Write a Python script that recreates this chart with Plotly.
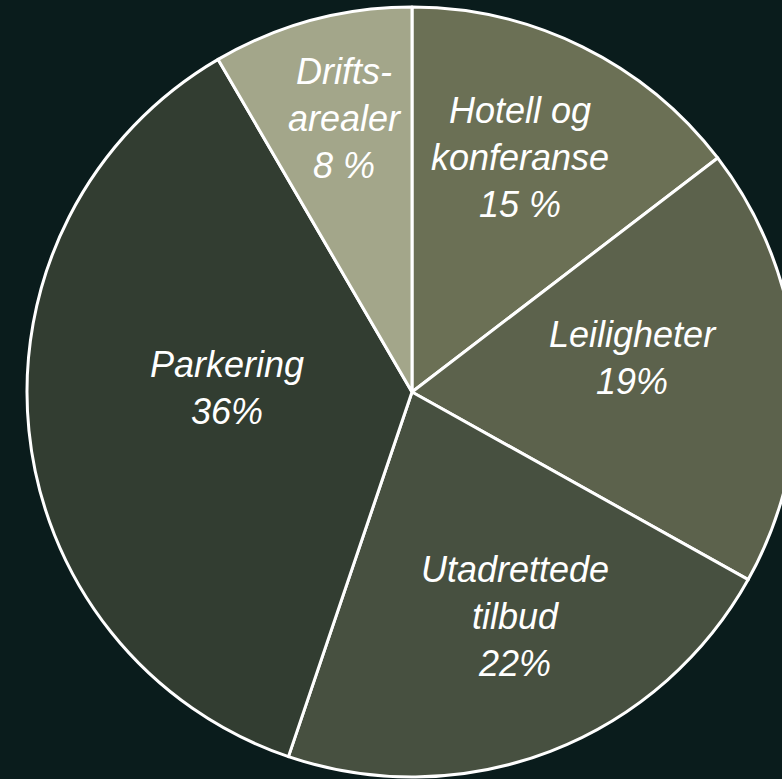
import plotly.graph_objects as go

labels = ["Hotell og konferanse", "Leiligheter", "Utadrettede tilbud", "Parkering", "Driftsarealer"]
values = [14.6, 18.5, 22.1, 36.4, 8.4]
texts = ["Hotell og<br>konferanse<br>15 %", "Leiligheter<br>19%", "Utadrettede<br>tilbud<br>22%",
         "Parkering<br>36%", "Drifts-<br>arealer<br>8 %"]
colors = ["#6b7055", "#5c624c", "#475040", "#323d31", "#a3a68a"]
# label centres in paper coordinates of the pie domain
label_x = [0.640, 0.787, 0.634, 0.260, 0.413]
label_y = [0.804, 0.544, 0.208, 0.505, 0.855]

BG = "#0a1c1c"

fig = go.Figure(go.Pie(
    labels=labels, values=values, textinfo="none",
    sort=False, direction="clockwise", rotation=0,
    marker=dict(colors=colors, line=dict(color="white", width=3)),
    hoverinfo="label+percent", showlegend=False,
))
for t, x, y in zip(texts, label_x, label_y):
    fig.add_annotation(
        text=t, x=x, y=y, xref="paper", yref="paper",
        xanchor="center", yanchor="middle", showarrow=False, align="center",
        font=dict(family="Liberation Sans, Arial", size=36, color="white", style="italic"),
    )
fig.update_layout(
    width=800, height=779,
    margin=dict(l=27, r=3, t=7, b=2),
    paper_bgcolor=BG, plot_bgcolor=BG,
    showlegend=False,
)
post = ("document.body.style.margin='0';document.body.style.background='%s';"
        "document.body.style.overflow='hidden';document.documentElement.style.overflow='hidden';" % BG)
fig.write_html("out.html", post_script=post, config={"displayModeBar": False})
